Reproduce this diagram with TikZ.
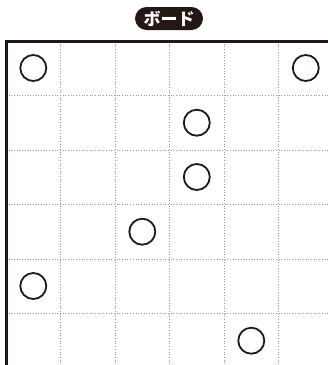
\documentclass[tikz,border=0pt]{standalone}
\usepackage{fontspec}
\newfontfamily\cjk{Noto Sans CJK JP}
\definecolor{ink}{HTML}{231815}
\begin{document}
\begin{tikzpicture}[x=1pt,y=-1pt,
  grid/.style={gray!80,line width=0.8pt,dash pattern=on 0.9pt off 1.8pt},
  frame/.style={ink,line width=3pt},
  stone/.style={circle,draw=ink,line width=1.8pt,minimum size=26pt,inner sep=0pt},
  title/.style={fill=ink,rounded corners=11.5pt,minimum width=68pt,minimum height=23pt,inner sep=0pt,text=white,font=\cjk\bfseries\fontsize{17pt}{17pt}\selectfont}]
\useasboundingbox (0,0) rectangle (328,365);
\foreach \x in {60.5,115,169.5,224,278.5} \draw[grid] (\x,41) -- (\x,365);
\foreach \y in {95.5,150,204.5,259,313.5} \draw[grid] (6,\y) -- (328,\y);
\draw[frame] (6,365) -- (6,41) -- (328,41);
\node[title] (t) at (169,18.5) {ボード};
\node[stone] (s1) at (33.3,68) {};
\node[stone] (s2) at (305.8,68) {};
\node[stone] (s3) at (196.8,122.7) {};
\node[stone] (s4) at (196.8,177) {};
\node[stone] (s5) at (142.3,231.7) {};
\node[stone] (s6) at (33.3,286) {};
\node[stone] (s7) at (251.3,340.7) {};
\end{tikzpicture}
\end{document}
